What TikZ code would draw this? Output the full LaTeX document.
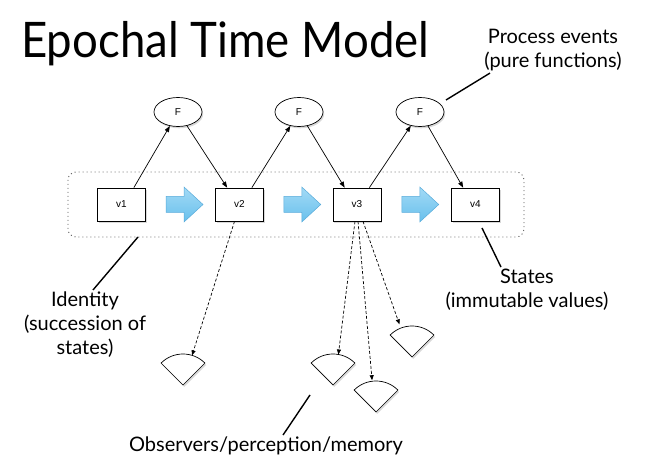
\documentclass[tikz,border=0pt]{standalone}
\usepackage{graphicx}
\usepackage{fontspec}
\setmainfont{Lato}
\newfontfamily\boxfont{Liberation Sans}
\usetikzlibrary{shapes.geometric,shadows,arrows.meta,calc}

\definecolor{arrowtop}{HTML}{A3DAF6}
\definecolor{arrowbottom}{HTML}{68C0EC}
\definecolor{arrowline}{HTML}{58ABDA}

\newcommand\observer[2]{%
  \coordinate (#1) at (#2);
  \filldraw[fill=white, line width=0.7pt, drop shadow={opacity=0.3, shadow xshift=1.2pt, shadow yshift=-1.8pt}]
    (#1) -- ++(135:31) arc[start angle=135, end angle=45, radius=31] -- cycle;
}

\begin{document}
\begin{tikzpicture}[x=1pt,y=1pt,
    state/.style={draw, fill=white, line width=0.7pt, minimum width=48pt, minimum height=33pt, inner sep=0pt,
      font=\boxfont\fontsize{10}{11}\selectfont,
      drop shadow={opacity=0.3, shadow xshift=1.2pt, shadow yshift=-1.8pt}},
    func/.style={ellipse, draw, fill=white, line width=0.7pt, minimum width=48pt, minimum height=29pt, inner sep=0pt,
      font=\boxfont\fontsize{10}{11}\selectfont,
      drop shadow={opacity=0.3, shadow xshift=1.2pt, shadow yshift=-1.8pt}},
    label/.style={font=\fontsize{20}{24}\selectfont, align=center, inner sep=2pt},
    flow/.style={-{Triangle[length=6pt,width=4.5pt]}, line width=0.7pt},
    look/.style={-{Triangle[length=5pt,width=4pt]}, line width=0.7pt, dash pattern=on 3pt off 2pt},
    pointer/.style={line width=1.4pt},
    stepshape/.style={top color=arrowtop, bottom color=arrowbottom, draw=arrowline, line width=0.5pt}]
  \useasboundingbox (0,0) rectangle (645,463);

  \node[anchor=base west, font=\fontsize{49}{55}\selectfont, inner sep=0pt] (title) at (21,405) {\scalebox{0.93}[1]{Epochal Time Model}};

  \draw[gray!70!black, line width=0.9pt, dash pattern=on 1pt off 3pt, rounded corners=8pt] (68,226) rectangle (524,291);

  \node[state] (v1) at (121.5,258.5) {v1};
  \node[state] (v2) at (239.5,258.5) {v2};
  \node[state] (v3) at (357,258.5) {v3};
  \node[state] (v4) at (475.5,258.5) {v4};

  \node[func] (F1) at (178,351) {F};
  \node[func] (F2) at (299,351) {F};
  \node[func] (F3) at (420,351) {F};

  \foreach \a/\b in {v1/v2,v2/v3,v3/v4}
    \path[stepshape] ($(\a)!.5!(\b)$) ++(-14.5,-8) -- ++(18,0) -- ++(0,-9.5) -- ++(19,17.5)
      -- ++(-19,17.5) -- ++(0,-9.5) -- ++(-18,0) -- cycle;

  \foreach \a/\f/\b in {v1/F1/v2,v2/F2/v3,v3/F3/v4} {
    \draw[flow] ([xshift=-12pt]\a.north east) -- (\f);
    \draw[flow] (\f) -- ([xshift=12pt]\b.north west);
  }

  \observer{o1}{183,78}
  \observer{o2}{333,78}
  \observer{o3}{376,51}
  \observer{o4}{412,106}

  \draw[look] ([xshift=-5pt]v2.south) -- ($(o1)+(73:31)$);
  \draw[look] ([xshift=-2pt]v3.south) -- ($(o2)+(80:31)$);
  \draw[look] ([xshift=1pt]v3.south) -- ($(o3)+(97:32)$);
  \draw[look] ([xshift=6pt]v3.south) -- ($(o4)+(111:35)$);

  \node[label] (process) at (553,413) {Process events\\(pure functions)};
  \node[label] (identity) at (85,138) {Identity\\(succession of\\states)};
  \node[label] (states) at (527,173) {States\\(immutable values)};
  \node[label, anchor=base] (observers) at (266,11) {Observers/perception/memory};

  \coordinate (processptr) at (446,363);
  \coordinate (identityptr) at (138,226);
  \coordinate (statesptr) at (482,235);
  \coordinate (observersptr) at (310,68);

  \draw[pointer] ([xshift=-63pt]process.south) -- (processptr);
  \draw[pointer] ([xshift=8pt]identity.north) -- (identityptr);
  \draw[pointer] ([xshift=-26pt]states.north) -- (statesptr);
  \draw[pointer] ([xshift=17pt]observers.north) -- (observersptr);
\end{tikzpicture}
\end{document}
